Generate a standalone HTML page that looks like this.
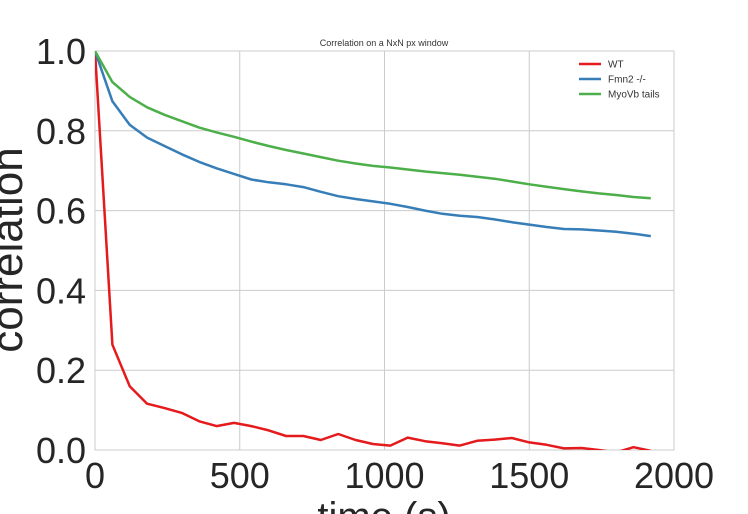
<!DOCTYPE html>
<html><head><meta charset="utf-8"><style>
body{margin:0;background:#fff;}
svg{display:block;font-family:"Liberation Sans","DejaVu Sans",sans-serif;}
</style></head><body>
<svg id="chart" width="748" height="514">
<defs><clipPath id="plotclip"><rect x="95" y="51" width="579" height="399"/></clipPath></defs>
<rect x="95" y="51" width="579" height="399" fill="#fff"/>
<g id="grid"></g>
<g id="series" clip-path="url(#plotclip)"></g>
<g id="ticks"></g>
<text x="384" y="46" font-size="9" text-anchor="middle" fill="#333">Correlation on a NxN px window</text>
<text transform="translate(22,250) rotate(-90)" font-size="44" text-anchor="middle" fill="#262626">correlation</text>
<text x="384" y="530" font-size="40" text-anchor="middle" fill="#262626">time (s)</text>
<g id="legend"></g>
</svg>
<script>
const times = [0,60,120,180,240,300,360,420,480,540,600,660,720,780,840,900,960,1020,1080,1140,1200,1260,1320,1380,1440,1500,1560,1620,1680,1740,1800,1860,1920];
const wtValues = [1.0,0.264,0.16,0.116,0.105,0.093,0.072,0.06,0.068,0.06,0.049,0.035,0.035,0.025,0.04,0.025,0.015,0.011,0.031,0.022,0.017,0.011,0.023,0.026,0.03,0.019,0.013,0.004,0.005,0.0,-0.006,0.007,-0.002];
const fmn2Values = [1.0,0.874,0.815,0.783,0.762,0.741,0.722,0.706,0.692,0.678,0.671,0.666,0.659,0.647,0.636,0.629,0.623,0.617,0.609,0.600,0.592,0.587,0.584,0.578,0.571,0.565,0.559,0.554,0.553,0.550,0.547,0.542,0.536];
const myoValues = [1.0,0.922,0.885,0.859,0.840,0.824,0.808,0.796,0.785,0.773,0.762,0.752,0.743,0.734,0.725,0.718,0.712,0.708,0.703,0.698,0.694,0.690,0.685,0.680,0.673,0.666,0.660,0.654,0.648,0.643,0.639,0.634,0.631];
const seriesNames = ["WT","Fmn2 -/-","MyoVb tails"];
const xTicks = [0,500,1000,1500,2000];
const yTicks = [0,0.2,0.4,0.6,0.8,1.0];
const yTickLabels = ["0.0","0.2","0.4","0.6","0.8","1.0"];

const NS="http://www.w3.org/2000/svg";
const X0=95,X1=674,Y0=450,Y1=51;
function xs(v){return X0+(v/2000)*(X1-X0);}
function ys(v){return Y0-v*(Y0-Y1);}
function mk(tag,attrs,parent){const e=document.createElementNS(NS,tag);for(const k in attrs)e.setAttribute(k,attrs[k]);parent.appendChild(e);return e;}
const grid=document.getElementById('grid'),ticks=document.getElementById('ticks');
xTicks.forEach((t,i)=>{
  const l=mk('line',{x1:xs(t),x2:xs(t),y1:Y1,y2:Y0,stroke:'#cccccc','stroke-width':1},grid);
  
  
  const tx=mk('text',{x:xs(t),y:488,'font-size':36,'text-anchor':'middle',fill:'#262626'},ticks);
  tx.textContent=String(t);
  
  
});
yTicks.forEach((t,i)=>{
  const l=mk('line',{x1:X0,x2:X1,y1:ys(t),y2:ys(t),stroke:'#cccccc','stroke-width':1},grid);
  
  
  const tx=mk('text',{x:86,y:ys(t)+13,'font-size':36,'text-anchor':'end',fill:'#262626'},ticks);
  tx.textContent=yTickLabels[i];
  
  
});
const b=mk('rect',{x:X0,y:Y1,width:X1-X0,height:Y0-Y1,fill:'none',stroke:'#cccccc','stroke-width':1},grid);



const colors=["#e41a1c","#377eb8","#4daf4a"];
const all=[wtValues,fmn2Values,myoValues];
const sg=document.getElementById('series');
all.forEach((vals,si)=>{
  const d=vals.map((v,i)=>(i?'L':'M')+xs(times[i]).toFixed(1)+','+ys(v).toFixed(1)).join(' ');
  const p=mk('path',{d:d,fill:'none',stroke:colors[si],'stroke-width':2.5,'stroke-linejoin':'round'},sg);
  
  
});
const lg=document.getElementById('legend');
seriesNames.forEach((n,i)=>{
  const y=64+i*15;
  const l=mk('line',{x1:579,x2:601,y1:y,y2:y,stroke:colors[i],'stroke-width':2.5},lg);
  
  
  const t=mk('text',{x:608,y:y+3.5,'font-size':10,fill:'#333'},lg);
  t.textContent=n;
  
  
});
</script>
</body></html>
